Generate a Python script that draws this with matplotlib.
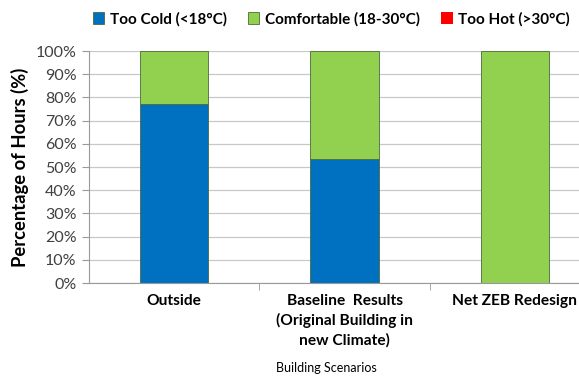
import numpy as np
import matplotlib.pyplot as plt

plt.rcParams['font.family'] = ['Lato', 'DejaVu Sans']

# Share of hours in each comfort band per scenario (%)
scenarios = ["Outside", "Baseline  Results\n(Original Building in\nnew Climate)", "Net ZEB Redesign"]
too_cold = [77, 53.5, 0]
comfortable = [23, 46.5, 99.8]
too_hot = [0, 0, 0.2]

fig = plt.figure(figsize=(5.79, 3.76), dpi=100)
ax = fig.add_axes([0.1537, 0.2473, 0.8826, 0.617])

x = np.arange(len(scenarios))
w = 0.4
edge = dict(edgecolor="#4a6a3a", linewidth=0.6)
ax.bar(x, too_cold, w, color="#0070C0", label="Too Cold (<18°C)", **edge)
ax.bar(x, comfortable, w, bottom=too_cold, color="#92D050", label="Comfortable (18-30°C)", **edge)
bottom2 = np.array(too_cold) + np.array(comfortable)
ax.bar(x, too_hot, w, bottom=bottom2, color="#FF0000", label="Too Hot (>30°C)", linewidth=0)

ax.set_xlim(-0.5, 2.5)
ax.set_ylim(0, 100)
ax.set_yticks(np.arange(0, 101, 10))
ax.set_yticklabels([f"{v}%" for v in range(0, 101, 10)], fontsize=11.5, color="#404040")
ax.yaxis.grid(True, color="#c8c8c8", linewidth=0.9)
ax.set_axisbelow(True)

ax.set_xticks(x)
ax.set_xticklabels(scenarios, fontsize=11.2, fontweight="bold", linespacing=1.42, va="top")
ax.tick_params(axis="x", length=0, pad=8)
ax.set_xticks([0.5, 1.5], minor=True)
ax.tick_params(axis="x", which="minor", length=5, color="#999999")
ax.tick_params(axis="y", length=5, color="#999999", pad=4)

for s in ["top", "right"]:
    ax.spines[s].set_visible(False)
for s in ["left", "bottom"]:
    ax.spines[s].set_color("#999999")

ax.set_ylabel("Percentage of Hours (%)", fontsize=13.2, fontweight="bold", labelpad=5)
fig.text(0.563, 0.005, "Building Scenarios", fontsize=9, ha="center", va="bottom")

fig.legend(loc="upper center", bbox_to_anchor=(0.572, 1.005), ncol=3, frameon=False,
           prop={"size": 11, "weight": "bold"}, handlelength=0.75, handleheight=0.75,
           handletextpad=0.35, columnspacing=1.4)

fig.savefig("out.png", dpi=100)
